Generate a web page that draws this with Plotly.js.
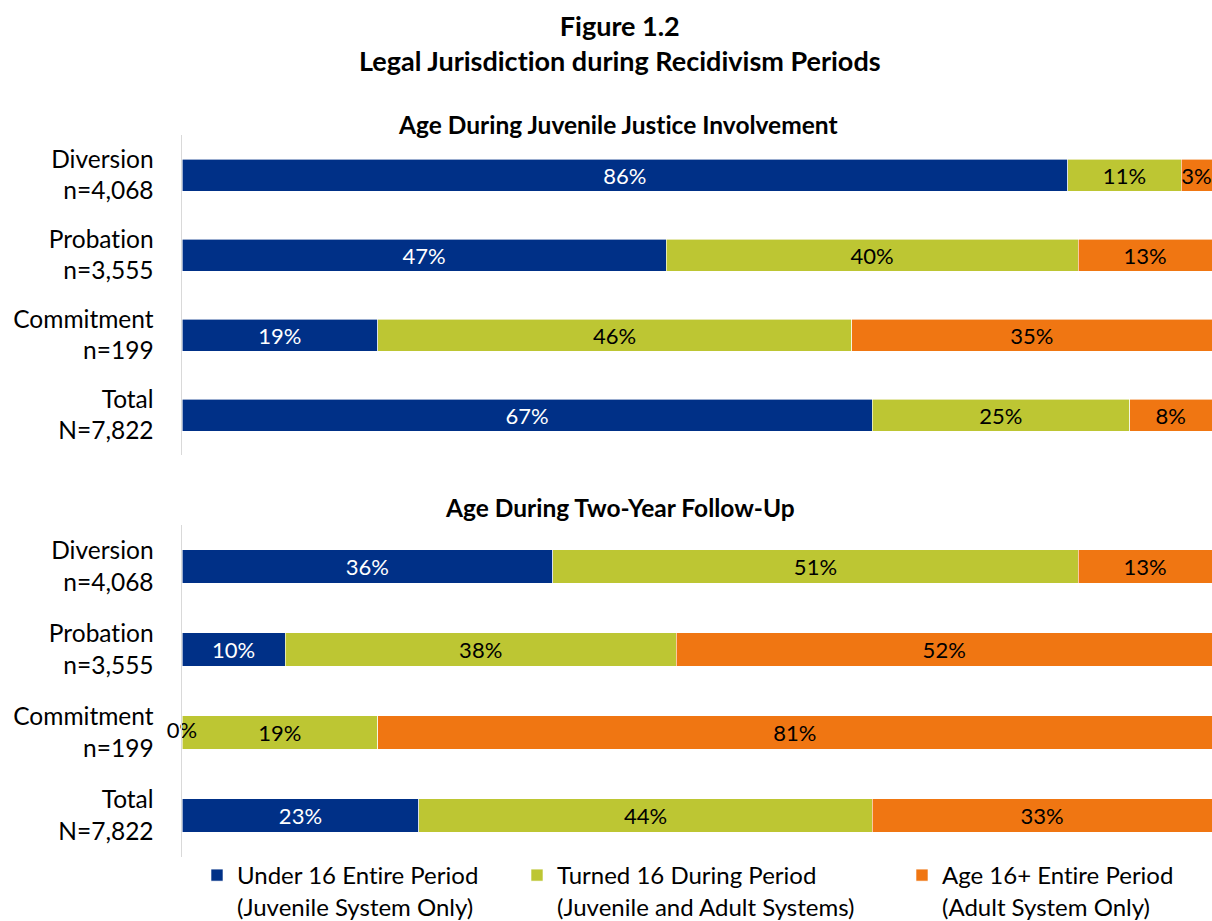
<!DOCTYPE html>
<html>
<head>
<meta charset="utf-8">
<script src="https://cdn.plot.ly/plotly-3.0.1.min.js"></script>
<style>
html,body{margin:0;padding:0;background:#fff}
#chart{width:1212px;height:921px}
svg text{font-variant-ligatures:none;font-feature-settings:"liga" 0,"clig" 0;}
</style>
</head>
<body>
<div id="chart"></div>
<script>
const categories = ["Diversion<br>n=4,068", "Probation<br>n=3,555", "Commitment<br>n=199", "Total<br>N=7,822"];
const seriesNames = ["Under 16 Entire Period<br>(Juvenile System Only)", "Turned 16 During Period<br>(Juvenile and Adult Systems)", "Age 16+ Entire Period<br>(Adult System Only)"];
// Panel 1: Age During Juvenile Justice Involvement
const juvUnder16 = [86, 47, 19, 67];
const juvTurned16 = [11, 40, 46, 25];
const juvAge16Plus = [3, 13, 35, 8];
// Panel 2: Age During Two-Year Follow-Up
const fuUnder16 = [36, 10, 0, 23];
const fuTurned16 = [51, 38, 19, 44];
const fuAge16Plus = [13, 52, 81, 33];
const figureTitle = ["Figure 1.2", "Legal Jurisdiction during Recidivism Periods"];
const panelTitles = ["Age During Juvenile Justice Involvement", "Age During Two-Year Follow-Up"];

const colors = ["#003087", "#BDC633", "#F07612"];
const textColors = ["#ffffff", "#000000", "#000000"];
const FONT = "Lato, 'Open Sans', sans-serif";
const FS_BAR = 22;
const FS_LBL = 24.5;
const FS_LEG = 24;
const legendIds = ["legend", "legend2", "legend3"];

const traces = [];
const panels = [[juvUnder16, juvTurned16, juvAge16Plus], [fuUnder16, fuTurned16, fuAge16Plus]];
panels.forEach((vals, p) => {
  vals.forEach((v, s) => {
    traces.push({
      type: "bar", orientation: "h",
      x: v, y: categories,
      xaxis: p === 0 ? "x" : "x2", yaxis: p === 0 ? "y" : "y2",
      name: seriesNames[s], legendgroup: "s" + s, showlegend: p === 0, legend: legendIds[s],
      marker: {color: colors[s], line: {color: "#ffffff", width: 0.6}},
      width: 0.4,
      text: v.map(d => d + "%"), textposition: "inside", insidetextanchor: "middle",
      constraintext: "none", textangle: 0,
      insidetextfont: {family: FONT, size: FS_BAR, color: textColors[s]},
      hoverinfo: "x+y+name", cliponaxis: false
    });
  });
  // zero-valued segments: label at their (zero-width) position
  const zi = vals[0].map((d, i) => d === 0 ? i : -1).filter(i => i >= 0);
  traces.push({
    type: "scatter", mode: "text",
    x: zi.map(i => vals[0][i] / 2), y: zi.map(i => categories[i]),
    text: zi.map(i => vals[0][i] + "%"), textposition: "middle center",
    textfont: {family: FONT, size: FS_BAR, color: "#000000"},
    xaxis: p === 0 ? "x" : "x2", yaxis: p === 0 ? "y" : "y2",
    showlegend: false, hoverinfo: "skip", cliponaxis: false
  });
});

const W = 1212, H = 921, L = 182;
const px = x => (x - L) / (W - L);
const py = y => 1 - y / H;
const yAx = (top, bot) => ({
  domain: [py(bot), py(top)], type: "category", autorange: "reversed",
  showline: true, linecolor: "#d9d9d9", linewidth: 1.5, showgrid: false, zeroline: false,
  ticks: "outside", ticklen: 22, tickcolor: "rgba(0,0,0,0)",
  tickfont: {family: FONT, size: FS_LBL, color: "#000"}, automargin: false, fixedrange: true
});
const xAx = (anchor) => ({
  range: [0, 100], visible: false, anchor: anchor, domain: [0, 1], fixedrange: true, automargin: false
});
const leg = (xpx) => ({
  orientation: "h", x: px(xpx), xanchor: "left", y: py(853), yanchor: "top",
  font: {family: FONT, size: FS_LEG, color: "#000"}, valign: "top", bgcolor: "rgba(0,0,0,0)"
});

const layout = {
  width: W, height: H,
  margin: {l: L, r: 0, t: 0, b: 0, autoexpand: false},
  paper_bgcolor: "#fff", plot_bgcolor: "#fff",
  barmode: "stack",
  font: {family: FONT, size: FS_LBL, color: "#000"},
  xaxis: xAx("y"), yaxis: yAx(135, 455),
  xaxis2: xAx("y2"), yaxis2: yAx(525, 857),
  annotations: [
    {text: "<b>" + figureTitle[0] + "</b><br><b>" + figureTitle[1] + "</b>", x: px(620), y: py(43),
     font: {family: FONT, size: 27, color: "#000"}},
    {text: "<b>" + panelTitles[0] + "</b>", x: px(618), y: py(124), font: {family: FONT, size: 24.5, color: "#000"}},
    {text: "<b>" + panelTitles[1] + "</b>", x: px(620), y: py(507), font: {family: FONT, size: 24.5, color: "#000"}}
  ].map(a => Object.assign({xref: "paper", yref: "paper", xanchor: "center", yanchor: "middle", showarrow: false}, a)),
  legend: leg(197), legend2: leg(517), legend3: leg(902),
  showlegend: true
};

Plotly.newPlot("chart", traces, layout, {displayModeBar: false, staticPlot: true});
</script>
</body>
</html>
